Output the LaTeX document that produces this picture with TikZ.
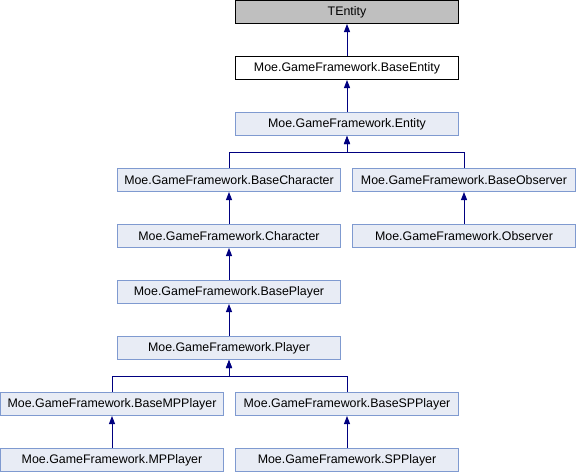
\documentclass[tikz,border=0pt]{standalone}
\usepackage{fontspec}
\setmainfont{Liberation Sans}
\usetikzlibrary{arrows.meta}
\definecolor{clsfill}{HTML}{E8ECF5}
\definecolor{clsdraw}{HTML}{7F9AD0}
\definecolor{inhline}{HTML}{000080}
\begin{document}
\begin{tikzpicture}[x=1pt, y=-1pt,
    every node/.style={font=\fontsize{12.4}{14}\selectfont, inner sep=0pt,
      minimum width=223pt, minimum height=23pt, line width=1pt},
    cls/.style={draw=clsdraw, fill=clsfill},
    inh/.style={draw=inhline, line width=1pt, {Triangle[width=6pt,length=8pt]}-}]
    \useasboundingbox (0,0) rectangle (577,472);
    % grey external base and the plain base entity
    \node[draw=black, fill=black!25] (tentity) at (347,12) {TEntity};
    \node[draw=black, fill=white] (baseentity) at (347,68) {Moe.GameFramework.BaseEntity};
    \node[cls] (entity) at (347,124) {Moe.GameFramework.Entity};
    % characters and observers
    \node[cls] (basechar) at (229,180) {Moe.GameFramework.BaseCharacter};
    \node[cls] (baseobs) at (464,180) {Moe.GameFramework.BaseObserver};
    \node[cls] (char) at (229,236) {Moe.GameFramework.Character};
    \node[cls] (obs) at (464,236) {Moe.GameFramework.Observer};
    % players
    \node[cls] (baseplayer) at (229,292) {Moe.GameFramework.BasePlayer};
    \node[cls] (player) at (229,348) {Moe.GameFramework.Player};
    \node[cls] (basemp) at (112,404) {Moe.GameFramework.BaseMPPlayer};
    \node[cls] (basesp) at (347,404) {Moe.GameFramework.BaseSPPlayer};
    \node[cls] (mp) at (112,460) {Moe.GameFramework.MPPlayer};
    \node[cls] (sp) at (347,460) {Moe.GameFramework.SPPlayer};
    % inheritance arrows, tip at the parent
    \draw[inh] (tentity.south) -- (baseentity.north);
    \draw[inh] (baseentity.south) -- (entity.north);
    \draw[inh] (entity.south) |- ++(0,16) -| (basechar.north);
    \draw[inh] (entity.south) |- ++(0,16) -| (baseobs.north);
    \draw[inh] (basechar.south) -- (char.north);
    \draw[inh] (baseobs.south) -- (obs.north);
    \draw[inh] (char.south) -- (baseplayer.north);
    \draw[inh] (baseplayer.south) -- (player.north);
    \draw[inh] (player.south) |- ++(0,16) -| (basemp.north);
    \draw[inh] (player.south) |- ++(0,16) -| (basesp.north);
    \draw[inh] (basemp.south) -- (mp.north);
    \draw[inh] (basesp.south) -- (sp.north);
\end{tikzpicture}
\end{document}
